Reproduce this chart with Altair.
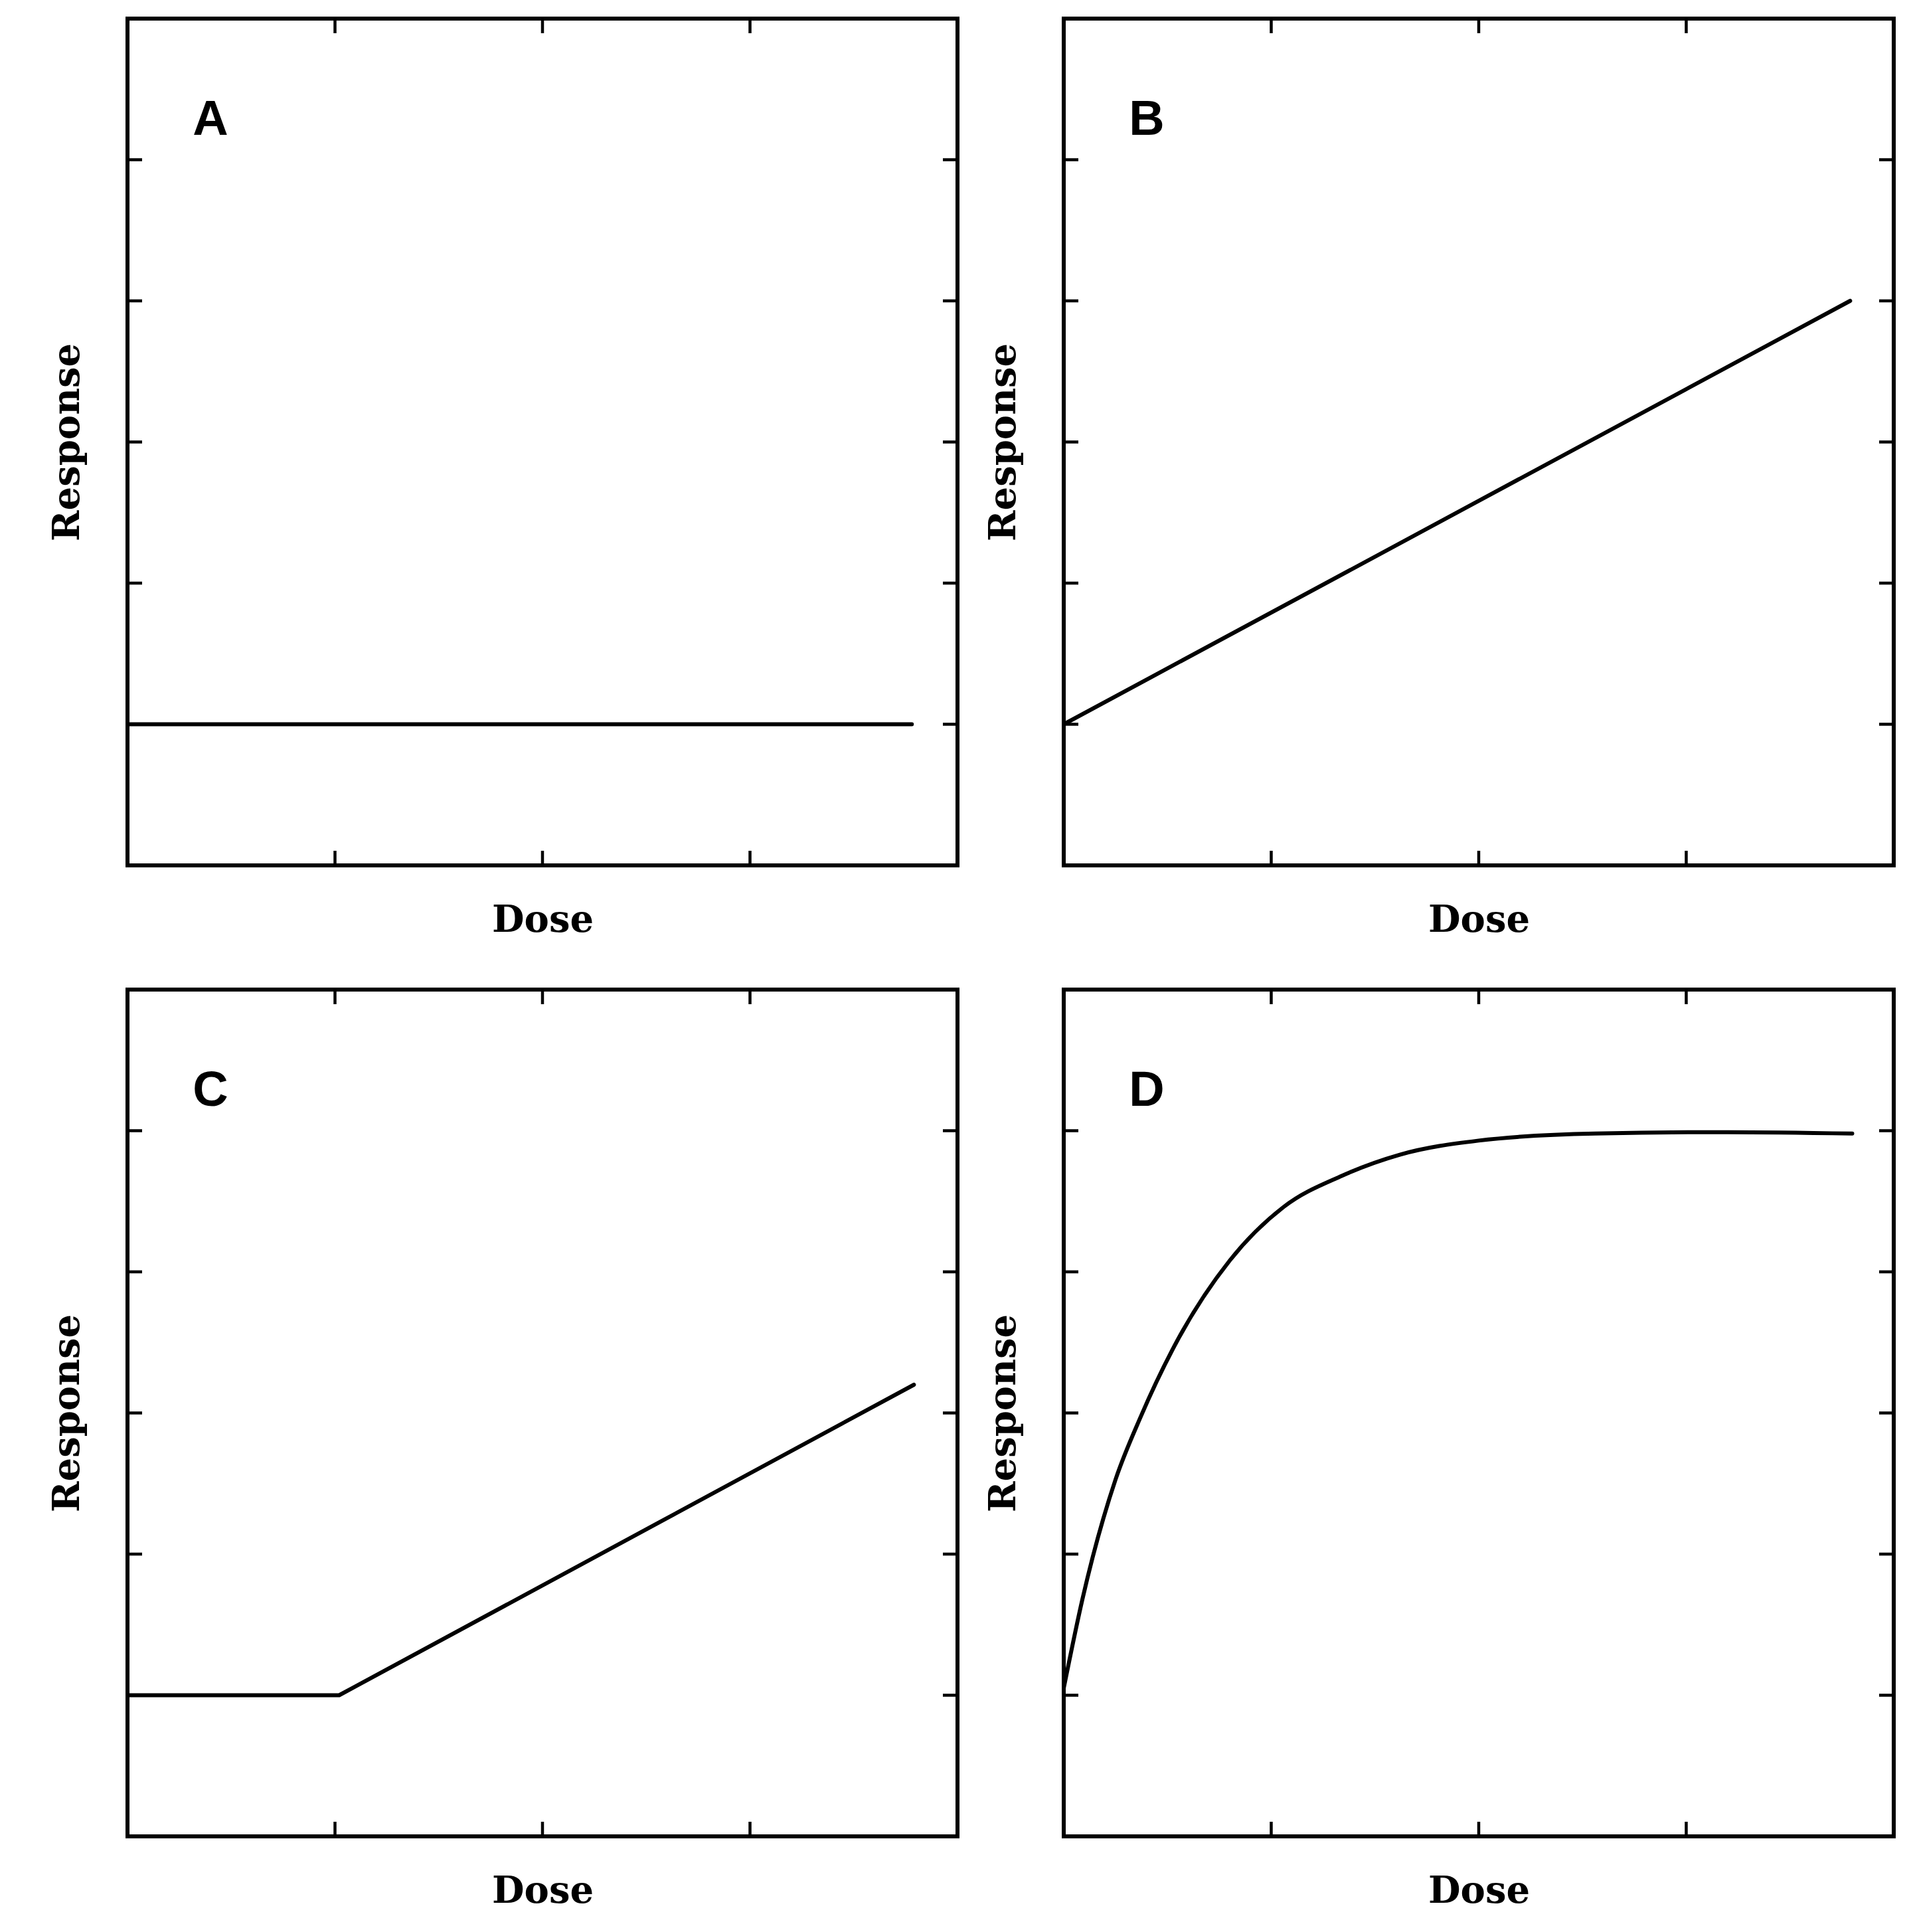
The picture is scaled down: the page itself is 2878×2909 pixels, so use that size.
import altair as alt
import pandas as pd

# ---- data ----
x_ticks = [1, 2, 3]
y_ticks = [1, 2, 3, 4, 5]
panel_labels = ["A", "B", "C", "D"]

a_dose = [0.0, 3.78]
a_resp = [1.0, 1.0]

b_dose = [0.0, 3.79]
b_resp = [1.0, 4.0]

c_dose = [0.0, 1.02, 3.79]
c_resp = [1.0, 1.0, 3.2]

d_dose = [0.0, 0.09, 0.25, 0.37, 0.55, 0.80, 1.06, 1.34, 1.62, 2.0, 2.56, 3.2, 3.8]
d_resp = [1.05, 1.68, 2.53, 2.97, 3.52, 4.08, 4.46, 4.68, 4.83, 4.93, 4.98, 4.99, 4.98]

# ---- layout / style ----
W, H = 1250, 1275
TICK = 22
LINE_W = 6
X_DOMAIN = [0, 4]
Y_DOMAIN = [0, 6]
LABEL_X, LABEL_Y = 0.4, 5.28


def panel(dose, resp, label, interp):
    xs = alt.Scale(domain=X_DOMAIN, nice=False, zero=False)
    ys = alt.Scale(domain=Y_DOMAIN, nice=False, zero=False)
    curve_df = pd.DataFrame({"Dose": dose, "Response": resp})
    curve = alt.Chart(curve_df).mark_line(
        color="black", strokeWidth=LINE_W, interpolate=interp, clip=True,
        strokeCap="round", strokeJoin="round"
    ).encode(
        x=alt.X("Dose:Q", scale=xs, title="Dose",
                axis=alt.Axis(titlePadding=55)),
        y=alt.Y("Response:Q", scale=ys, title="Response",
                axis=alt.Axis(titlePadding=62)),
    )
    xt = pd.DataFrame({"t": x_ticks})
    yt = pd.DataFrame({"t": y_ticks})
    bottom = alt.Chart(xt).mark_rule(color="black", strokeWidth=4.5).encode(
        x=alt.X("t:Q", scale=xs), y=alt.value(H), y2=alt.value(H - TICK))
    top = alt.Chart(xt).mark_rule(color="black", strokeWidth=4.5).encode(
        x=alt.X("t:Q", scale=xs), y=alt.value(0), y2=alt.value(TICK))
    left = alt.Chart(yt).mark_rule(color="black", strokeWidth=4.5).encode(
        y=alt.Y("t:Q", scale=ys), x=alt.value(0), x2=alt.value(TICK))
    right = alt.Chart(yt).mark_rule(color="black", strokeWidth=4.5).encode(
        y=alt.Y("t:Q", scale=ys), x=alt.value(W), x2=alt.value(W - TICK))
    lab_df = pd.DataFrame({"x": [LABEL_X], "y": [LABEL_Y], "label": [label]})
    lab = alt.Chart(lab_df).mark_text(
        font="Liberation Sans", fontWeight="bold", fontSize=74,
        color="black", align="center", baseline="middle"
    ).encode(x=alt.X("x:Q", scale=xs), y=alt.Y("y:Q", scale=ys), text="label:N")
    return alt.layer(curve, bottom, top, left, right, lab).properties(width=W, height=H)


pA = panel(a_dose, a_resp, panel_labels[0], "linear")
pB = panel(b_dose, b_resp, panel_labels[1], "linear")
pC = panel(c_dose, c_resp, panel_labels[2], "linear")
pD = panel(d_dose, d_resp, panel_labels[3], "monotone")

chart = alt.vconcat(
    alt.hconcat(pA, pB, spacing=32),
    alt.hconcat(pC, pD, spacing=32),
    spacing=68,
).properties(
    padding={"left": 62, "top": 14, "right": 5, "bottom": 5},
    background="white",
).configure_view(
    stroke="black", strokeWidth=6
).configure_axis(
    labels=False, ticks=False, domain=False, grid=False,
    titleFont="DejaVu Serif", titleFontWeight="bold", titleFontSize=56,
    titleColor="black",
)

chart.save("out.html", embed_options={"renderer": "svg", "actions": False})
